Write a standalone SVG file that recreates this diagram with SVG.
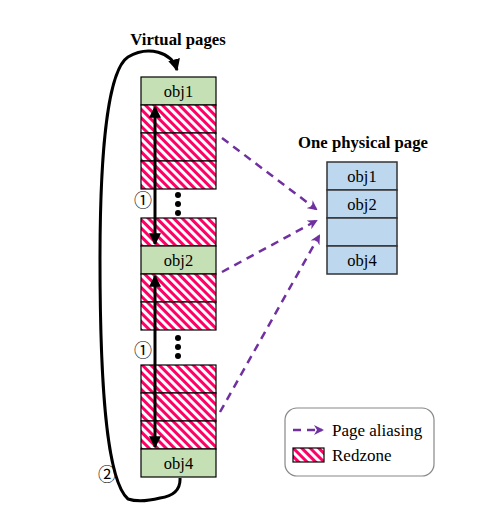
<svg xmlns="http://www.w3.org/2000/svg" width="488" height="516" viewBox="0 0 488 516">
<defs>
<pattern id="hatch" patternUnits="userSpaceOnUse" width="6" height="6" patternTransform="rotate(45)">
<rect width="6" height="6" fill="#fff"/>
<rect x="0" y="0" width="6" height="3" fill="#FF0066"/>
</pattern>
<marker id="pa" viewBox="0 0 10 10" refX="8" refY="5" markerWidth="4" markerHeight="4" orient="auto" markerUnits="strokeWidth">
<path d="M0,0 L10,5 L0,10 L3,5 z" fill="#7030A0"/>
</marker>
<marker id="ba" viewBox="0 0 10 10" refX="9" refY="5" markerWidth="4" markerHeight="4" orient="auto-start-reverse" markerUnits="strokeWidth">
<path d="M0,0 L10,5 L0,10 z" fill="#000"/>
</marker>
<style>
.red{fill:url(#hatch);stroke:#000;stroke-width:1.2}
.grn{fill:#C5E0B4;stroke:#000;stroke-width:1.2}
.blu{fill:#BDD7EE;stroke:#333;stroke-width:1.5}
.t{font-family:"Liberation Serif","Times New Roman",serif;font-size:16.5px;fill:#000}
.l{font-family:"Liberation Serif","Times New Roman",serif;font-size:17px;fill:#000}
.c{font-family:"Noto Sans CJK JP","DejaVu Sans",sans-serif;font-size:18px;fill:#000}
.h{font-family:"Liberation Serif","Times New Roman",serif;font-size:16.7px;font-weight:bold;fill:#000}
.pd{fill:none;stroke:#7030A0;stroke-width:2.5;stroke-dasharray:8,6;marker-end:url(#pa)}
.bk{fill:none;stroke:#000;stroke-width:3}
</style>
</defs>
<rect width="488" height="516" fill="#fff"/>
<text class="h" x="178" y="45" text-anchor="middle">Virtual pages</text>
<text class="h" x="363" y="148" text-anchor="middle">One physical page</text>
<g id="vblock1">
<rect class="grn" x="141" y="77" width="75" height="28"/>
<text class="t" x="178.5" y="97" text-anchor="middle">obj1</text>
<rect class="red" x="141" y="105" width="75" height="28"/>
<rect class="red" x="141" y="133" width="75" height="28"/>
<rect class="red" x="141" y="161" width="75" height="28"/>
</g>
<g id="dots1" fill="#000">
<circle cx="178" cy="195" r="3"/><circle cx="178" cy="204" r="3"/><circle cx="178" cy="213" r="3"/>
</g>
<g id="vblock2">
<rect class="red" x="141" y="218" width="75" height="28"/>
<rect class="grn" x="141" y="246" width="75" height="28"/>
<text class="t" x="178.5" y="266" text-anchor="middle">obj2</text>
<rect class="red" x="141" y="274" width="75" height="28"/>
<rect class="red" x="141" y="302" width="75" height="28"/>
</g>
<g id="dots2" fill="#000">
<circle cx="178" cy="338" r="3"/><circle cx="178" cy="347" r="3"/><circle cx="178" cy="356" r="3"/>
</g>
<g id="vblock3">
<rect class="red" x="141" y="365" width="75" height="28"/>
<rect class="red" x="141" y="393" width="75" height="28"/>
<rect class="red" x="141" y="421" width="75" height="28"/>
<rect class="grn" x="141" y="449" width="75" height="28"/>
<text class="t" x="178.5" y="469" text-anchor="middle">obj4</text>
</g>
<g id="physical">
<rect class="blu" x="327" y="162" width="70" height="28"/>
<text class="t" x="362" y="182" text-anchor="middle">obj1</text>
<rect class="blu" x="327" y="190" width="70" height="28"/>
<text class="t" x="362" y="210" text-anchor="middle">obj2</text>
<rect class="blu" x="327" y="218" width="70" height="28"/>
<rect class="blu" x="327" y="246" width="70" height="28"/>
<text class="t" x="362" y="266" text-anchor="middle">obj4</text>
</g>
<g id="connectors">
<line class="bk" x1="155" y1="107" x2="155" y2="244" marker-start="url(#ba)" marker-end="url(#ba)"/>
<line class="bk" x1="155" y1="276" x2="155" y2="447" marker-start="url(#ba)" marker-end="url(#ba)"/>
<path class="bk" d="M180,478 Q181,495 160,498 Q140,503 128,499 C106,480 100,380 100,260 C100,150 108,70 128,57 C148,45 172,52 177,70" marker-end="url(#ba)"/>
<path class="pd" d="M222,138 L316,209"/>
<path class="pd" d="M222,272 L316,221"/>
<path class="pd" d="M220,412 L319,236"/>
</g>
<text class="c" x="143" y="207" text-anchor="middle">①</text>
<text class="c" x="143" y="357" text-anchor="middle">①</text>
<text class="c" x="107" y="481" text-anchor="middle">②</text>
<g id="legend">
<rect x="285" y="408" width="149" height="68" rx="12" fill="#fff" stroke="#888" stroke-width="1.2"/>
<path class="pd" d="M293,430 L322,430"/>
<text class="l" x="332" y="436">Page aliasing</text>
<rect class="red" x="293" y="448" width="31" height="14"/>
<text class="l" x="332" y="461">Redzone</text>
</g>
</svg>
